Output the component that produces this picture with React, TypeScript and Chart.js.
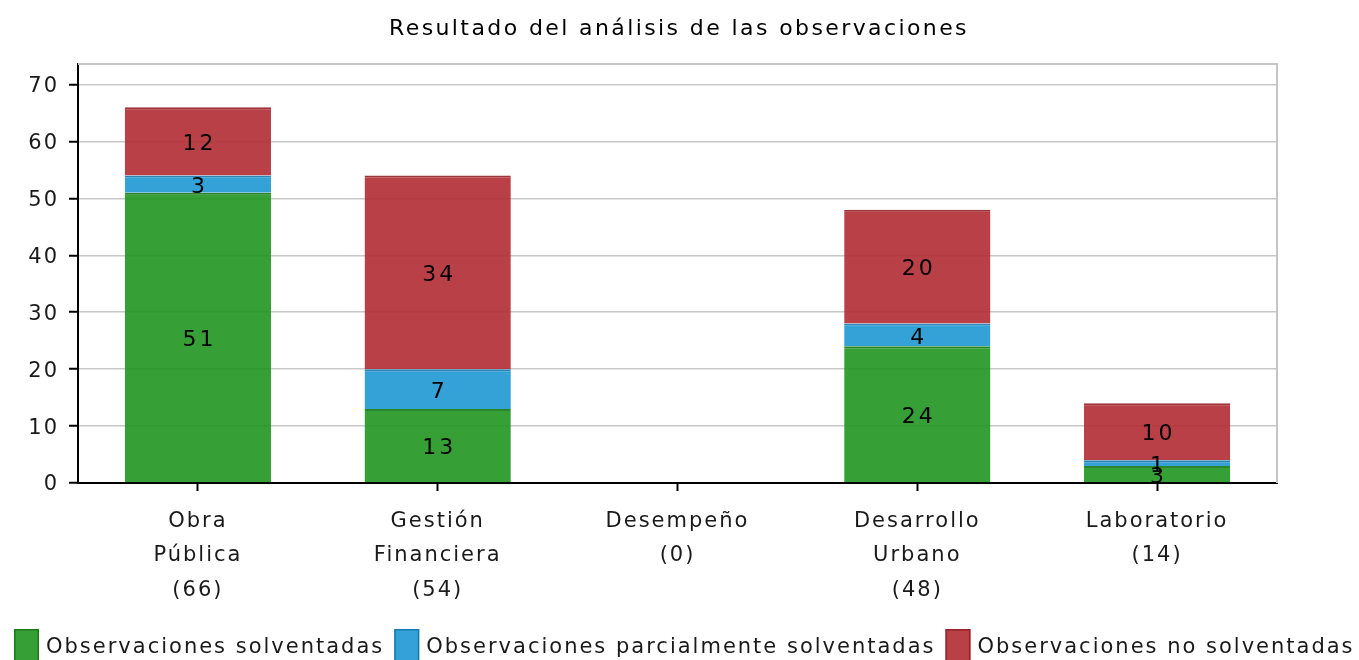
import React, { useEffect, useRef } from "react";
import { Chart, registerables } from "chart.js";

Chart.register(...registerables);

const chartTitle = "Resultado del análisis de las observaciones";
const categories: string[][] = [
  ["Obra", "Pública", "(66)"],
  ["Gestión", "Financiera", "(54)"],
  ["Desempeño", "(0)"],
  ["Desarrollo", "Urbano", "(48)"],
  ["Laboratorio", "(14)"],
];
const seriesNames = [
  "Observaciones solventadas",
  "Observaciones parcialmente solventadas",
  "Observaciones no solventadas",
];
const solventadas = [51, 13, 0, 24, 3];
const parcialmente = [3, 7, 0, 4, 1];
const noSolventadas = [12, 34, 0, 20, 10];
const yTickValues = [0, 10, 20, 30, 40, 50, 60, 70];
const yMax = 73.6;

const FONT = "DejaVu Sans";
const fillColors = ["rgba(32,150,32,0.9)", "rgba(30,152,209,0.9)", "rgba(176,43,50,0.9)"];
const edgeColors = ["rgba(20,120,20,0.9)", "rgba(20,120,175,0.9)", "rgba(150,30,38,0.9)"];

const letterSpacingPlugin = {
  id: "letterSpacing",
  beforeUpdate(chart: any) {
    chart.ctx.letterSpacing = "2px";
  },
  beforeDraw(chart: any) {
    chart.ctx.letterSpacing = "2px";
  },
};

const framePlugin = {
  id: "frame",
  beforeDatasetsDraw(chart: any) {
    const { ctx, chartArea } = chart;
    ctx.save();
    ctx.strokeStyle = "#c4c4c4";
    ctx.lineWidth = 2;
    ctx.beginPath();
    ctx.moveTo(chartArea.left, chartArea.top);
    ctx.lineTo(chartArea.right, chartArea.top);
    ctx.lineTo(chartArea.right, chartArea.bottom);
    ctx.stroke();
    ctx.restore();
  },
};

const valueLabelPlugin = {
  id: "valueLabels",
  afterDatasetsDraw(chart: any) {
    const { ctx } = chart;
    ctx.save();
    ctx.letterSpacing = "3px";
    ctx.font = `22px "${FONT}"`;
    ctx.fillStyle = "#000";
    ctx.textAlign = "center";
    ctx.textBaseline = "middle";
    chart.data.datasets.forEach((ds: any, i: number) => {
      const meta = chart.getDatasetMeta(i);
      meta.data.forEach((bar: any, j: number) => {
        const v = ds.data[j];
        if (!v) return;
        const y = (bar.y + bar.base) / 2;
        ctx.fillText(String(v), bar.x + 1.5, y + 3);
      });
    });
    ctx.restore();
  },
};

const titleLegendPlugin = {
  id: "titleLegend",
  afterDraw(chart: any) {
    const { ctx } = chart;
    ctx.save();
    ctx.letterSpacing = "2.4px";
    ctx.font = `22px "${FONT}"`;
    ctx.fillStyle = "#000";
    ctx.textAlign = "center";
    ctx.textBaseline = "middle";
    ctx.fillText(chartTitle, 679, 29);

    ctx.letterSpacing = "2px";
    ctx.font = `21px "${FONT}"`;
    ctx.textAlign = "left";
    let x = 14;
    seriesNames.forEach((name, i) => {
      ctx.fillStyle = fillColors[i];
      ctx.fillRect(x, 629, 25, 32);
      ctx.strokeStyle = edgeColors[i];
      ctx.lineWidth = 1.5;
      ctx.strokeRect(x + 0.75, 629.75, 23.5, 32);
      ctx.fillStyle = "#1a1a1a";
      ctx.fillText(name, x + 32, 648);
      x += 32 + ctx.measureText(name).width + 10;
    });
    ctx.restore();
  },
};

export default function App() {
  const ref = useRef<HTMLCanvasElement | null>(null);

  useEffect(() => {
    document.body.style.margin = "0";
    const canvas = ref.current;
    if (!canvas) return;
    const data = [solventadas, parcialmente, noSolventadas];
    const chart = new Chart(canvas, {
      type: "bar",
      data: {
        labels: categories,
        datasets: data.map((d, i) => ({
          label: seriesNames[i],
          data: d,
          backgroundColor: fillColors[i],
          borderColor: edgeColors[i],
          borderWidth: { top: 2, left: 0, right: 0, bottom: 0 },
          borderSkipped: false,
          barPercentage: 0.61,
          categoryPercentage: 1,
        })),
      },
      options: {
        responsive: false,
        animation: false,
        devicePixelRatio: 1,
        layout: { padding: { top: 64, right: 82, left: 0, bottom: 0 } },
        plugins: {
          legend: { display: false },
          title: { display: false },
          tooltip: { enabled: false },
        },
        scales: {
          x: {
            stacked: true,
            afterFit: (s: any) => {
              s.height = 177;
            },
            border: { color: "#000", width: 2 },
            grid: {
              offset: false,
              drawOnChartArea: false,
              drawTicks: true,
              tickLength: 8,
              tickColor: "#000",
              tickWidth: 2,
            },
            ticks: {
              autoSkip: false,
              maxRotation: 0,
              padding: 14,
              color: "#1a1a1a",
              font: { family: FONT, size: 21, lineHeight: 1.62 },
            },
          },
          y: {
            stacked: true,
            min: 0,
            max: yMax,
            afterFit: (s: any) => {
              s.width = 78;
            },
            afterBuildTicks: (s: any) => {
              s.ticks = yTickValues.map((v) => ({ value: v }));
            },
            border: { color: "#000", width: 2 },
            grid: {
              color: (c: any) => (c.tick && c.tick.value === 0 ? "rgba(0,0,0,0)" : "#c8c8c8"),
              lineWidth: 1.5,
              tickLength: 9,
              tickColor: "#000",
              tickWidth: 2,
            },
            ticks: {
              padding: 10,
              labelOffset: 2,
              color: "#1a1a1a",
              font: { family: FONT, size: 21 },
            },
          },
        },
      },
      plugins: [letterSpacingPlugin, framePlugin, valueLabelPlugin, titleLegendPlugin],
    } as any);
    return () => chart.destroy();
  }, []);

  return (
    <div style={{ position: "absolute", left: 0, top: 0, width: 1359, height: 660 }}>
      <canvas ref={ref} width={1359} height={660} style={{ display: "block" }} />
    </div>
  );
}
